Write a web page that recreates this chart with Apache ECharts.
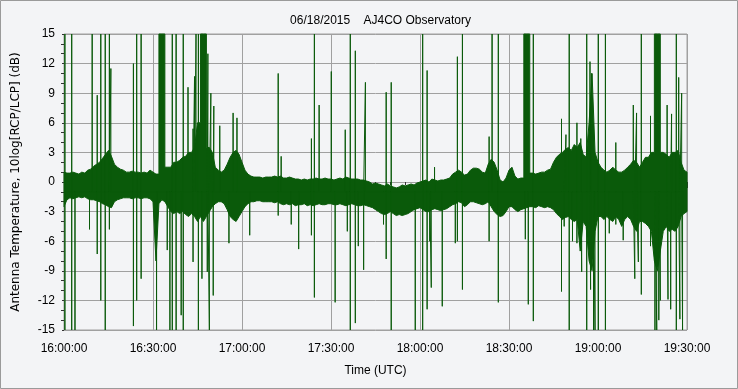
<!DOCTYPE html>
<html>
<head>
<meta charset="utf-8">
<script src="https://cdn.jsdelivr.net/npm/echarts@6/dist/echarts.min.js"></script>
<style>
html,body{margin:0;padding:0;background:#f3f4f6;}
#chart{width:738px;height:389px;}
</style>
</head>
<body>
<div id="chart"></div>
<script>
// Time in minutes after 16:00:00 UTC
const titleText = '06/18/2015    AJ4CO Observatory';
const xTickLabels = ['16:00:00','16:30:00','17:00:00','17:30:00','18:00:00','18:30:00','19:00:00','19:30:00'];
const yTicks = [-15,-12,-9,-6,-3,0,3,6,9,12,15];

// Upper edge of the noise band, one value per minute (0..210); 15 = saturated burst
const hiBand = [
  1.0, 0.9, 0.9, 1.0, 0.9, 0.8, 1.0, 0.9, 1.2, 1.3,
  1.6, 1.8, 2.0, 2.4, 2.8, 3.2, 2.6, 1.8, 1.5, 1.3,
  1.2, 1.0, 1.0, 1.1, 1.0, 1.0, 0.9, 1.0, 0.9, 1.2,
  1.0, 0.8, 15, 15, 15, 1.5, 1.5, 2.0, 2.0, 2.2,
  2.5, 2.6, 3.0, 3.0, 3.5, 6.0, 15, 15, 15, 3.5,
  3.0, 1.5, 1.2, 1.0, 1.2, 1.8, 2.5, 3.0, 3.2, 2.8,
  2.0, 1.2, 0.8, 0.6, 0.5, 0.5, 0.5, 0.4, 0.5, 0.5,
  0.5, 0.6, 0.5, 0.6, 0.4, 0.4, 0.5, 0.4, 0.3, 0.3,
  0.2, 0.3, 0.2, 0.3, 0.3, 0.4, 0.3, 0.3, 0.4, 0.3,
  0.3, 0.2, 0.3, 0.4, 0.3, 0.5, 0.4, 0.3, 0.3, 0.3,
  0.2, 0.2, 0.1, 0.0, -0.2, -0.1, -0.2, -0.3, -0.4, -0.2,
  -0.4, -0.5, -0.6, -0.5, -0.3, -0.4, -0.3, -0.2, -0.3, -0.1,
  0.0, 0.1, 0.2, 0.0, 0.3, 0.2, 0.1, 0.2, 0.2, 0.3,
  0.4, 0.8, 1.0, 1.2, 1.0, 0.7, 0.8, 1.2, 1.4, 1.4,
  1.3, 1.0, 0.9, 1.8, 2.3, 2.0, 1.2, 0.2, 0.0, 0.4,
  1.2, 1.5, 0.6, 0.3, 0.4, 15, 15, 15, 0.9, 0.8,
  0.9, 1.0, 1.0, 1.2, 1.3, 2.0, 2.5, 2.8, 3.0, 3.3,
  3.5, 3.2, 3.8, 3.5, 4.0, 2.8, 2.5, 6.0, 11.0, 3.0,
  2.0, 1.5, 1.2, 1.0, 1.2, 1.5, 1.2, 1.0, 1.0, 1.2,
  1.5, 1.8, 2.2, 2.0, 1.5, 2.0, 2.5, 2.5, 3.0, 15,
  15, 15, 3.0, 2.8, 2.5, 3.0, 3.0, 3.2, 2.0, 1.2, 1.0
];
// Lower edge of the noise band, one value per minute (0..210)
const loBand = [
  -2.5, -1.8, -1.6, -1.7, -1.6, -1.5, -1.6, -1.5, -1.7, -1.8,
  -1.8, -1.9, -2.0, -2.2, -2.3, -2.5, -2.6, -2.0, -1.8, -1.7,
  -1.6, -1.6, -1.6, -1.7, -1.6, -1.6, -1.7, -1.6, -1.6, -1.7,
  -2.0, -8.0, -2.2, -1.8, -2.0, -2.5, -3.0, -3.2, -3.0, -3.2,
  -3.0, -3.3, -3.5, -3.2, -3.5, -4.0, -3.5, -4.0, -3.5, -3.0,
  -2.5, -2.2, -2.0, -2.0, -2.2, -2.8, -3.5, -3.8, -4.0, -3.5,
  -3.0, -2.5, -2.2, -2.0, -2.0, -1.9, -1.9, -2.0, -2.0, -2.0,
  -2.0, -2.1, -2.0, -2.2, -2.3, -2.2, -2.3, -2.2, -2.4, -2.3,
  -2.3, -2.2, -2.4, -2.3, -2.4, -2.3, -2.2, -2.3, -2.3, -2.2,
  -2.2, -2.3, -2.3, -2.2, -2.3, -2.4, -2.3, -2.2, -2.3, -2.4,
  -2.4, -2.3, -2.4, -2.5, -2.6, -2.8, -3.0, -3.2, -3.3, -3.2,
  -3.0, -3.2, -3.4, -3.3, -3.4, -3.3, -3.2, -3.0, -2.8, -2.7,
  -2.6, -2.8, -3.0, -3.0, -2.8, -2.7, -2.8, -2.9, -2.8, -2.7,
  -2.5, -2.3, -2.2, -2.0, -2.1, -2.5, -2.3, -2.0, -2.0, -2.1,
  -2.2, -2.3, -2.2, -2.0, -2.5, -3.0, -3.3, -3.5, -3.4, -3.0,
  -2.5, -2.5, -2.8, -3.0, -2.8, -2.7, -2.6, -2.5, -2.5, -2.6,
  -2.4, -2.5, -2.6, -2.5, -2.6, -2.8, -3.2, -3.5, -3.8, -3.6,
  -3.5, -3.8, -4.0, -3.8, -7.0, -4.0, -4.5, -8.0, -9.0, -5.0,
  -3.5, -3.5, -3.8, -3.5, -3.8, -4.0, -3.5, -3.8, -4.5, -3.8,
  -3.5, -3.8, -4.5, -5.0, -4.0, -4.0, -4.2, -4.5, -5.0, -8.0,
  -9.0, -7.0, -5.0, -4.5, -5.0, -4.8, -5.0, -4.5, -3.5, -3.2, -3.0
];
// Isolated spikes: [minute, dB]
const spikes = [
  [0.3,15],[0.3,-15],[2.6,15],[2.6,-15],[3.7,-15],[8.6,-4.8],[9.5,15],
  [11.2,8.8],[11.2,-7.3],[12.4,15],[12.4,-12],[13.9,15],[13.9,-15],[15.3,15],[15.3,-4.8],[15.8,11.5],
  [23.4,12],[23.4,-14.6],[24.5,15],[24.5,-12],[26,15],[26,-9.8],[31.2,-15],
  [34.8,-6.9],[35.7,-15],[36.5,15],[36.5,-15],[37.8,15],[37.8,-15],[39.5,-13.5],[40.2,15],[40.2,-15],
  [41.8,9.6],[43.5,5.4],[43.5,-8.1],[44.0,10.7],[44.5,15],[45.3,15],[45.3,-15],[46.5,-9.8],
  [48.3,-9.1],[48.5,13],[49.0,-15],[49.5,9],[50.3,-11.5],[50.5,7.7],[52.5,5.7],[55.6,-6.2],
  [57,7],[58.3,6.5],[62.6,-5.4],
  [72.2,11],[72.2,-3.4],[73.2,2.6],[76.6,-4.3],[79.1,-6.8],[83.4,4.4],[83.4,-5.4],[84.4,15],[84.4,-11.7],
  [86,7.8],[90.1,11.2],[91.4,-12.2],[94.8,5.3],[95.5,-5],[96.5,15],[96.5,-15],[98.2,13.3],[98.2,-14.3],
  [99.2,-6.5],[101,-8.9],[101.6,10.1],
  [107.7,-4.3],[108.6,9.1],[108.6,-7.8],[110.3,10.1],[110.3,-15],[118.4,-15],[120.9,15],[120.9,-15],
  [122.4,11.3],[122.4,-12.9],[123.3,-6],[123.8,-10.7],[124.9,1.5],[127.5,-12.6],[131.9,-6.2],
  [132.6,12.7],[132.6,-6],[134.3,15],[134.3,-10.9],
  [143.3,4.6],[143.3,-6],[144.3,15],[146.4,15],[146.4,-12.2],[155.5,-5.8],[156.5,-12.4],
  [158.2,15],[158.2,-14.1],[167.7,6.4],[167.7,-11.1],[168.6,-4.5],[169.2,4.8],[170.3,15],[170.3,-15],
  [171.4,-6],[172.9,6],[172.9,-6.2],[174.2,4.4],[174.5,-9.1],
  [176.2,15],[176.2,-15],[177.3,12.2],[177.5,-10.9],[177.8,11],[178.5,-15],[179,-15],
  [180.1,15],[180.1,-15],[182.5,15],[182.5,-15],[183.8,-5.2],[186,4],[186,-4.3],[188.5,-5.9],
  [191.9,7.8],[192.4,-9.8],[193,7],[193.6,-8.1],[194.6,15],[194.6,-11.4],[197.7,6.7],[197.7,-6.5],
  [199.2,-15],[199.8,-15],[200.5,-14],[201,-12],
  [203.3,7.8],[203.6,-11.9],[204.5,-12.9],[204.8,6.9],[206.4,15],[206.4,-15],[207.2,10.6],
  [207.6,-13.9],[208.2,9],[208.5,-15]
];

const GREEN = '#0a5a0a';
const SAT = 15;
// outline of the band as one polygon: top edge left->right, bottom edge right->left
const topEdge = [];
for (let m = 0; m < hiBand.length - 1; m++) {
  let h0 = hiBand[m], h1 = hiBand[m + 1];
  // a saturated burst only fills between two saturated minutes
  if (h0 >= SAT && h1 < SAT) h0 = h1;
  else if (h1 >= SAT && h0 < SAT) h1 = h0;
  topEdge.push([m, h0], [m + 1, h1]);
}
const bottomEdge = loBand.map((v, m) => [m, v]).reverse();
const bandOutline = topEdge.concat(bottomEdge);

// spikes: vertical strokes from inside the band
const spikeBase = -1;
const spikeData = [];
spikes.slice().sort((a, b) => a[0] - b[0]).forEach(s => {
  spikeData.push([s[0], spikeBase], [s[0], s[1]], [s[0], spikeBase]);
});

const chart = echarts.init(document.getElementById('chart'));
const FONT = 'Liberation Sans';
chart.setOption({
  backgroundColor: '#f3f4f6',
  animation: false,
  title: {
    text: titleText, left: 375.5, textAlign: 'center', top: 10,
    textStyle: {fontFamily: FONT, fontSize: 12, fontWeight: 'normal', color: '#000'}
  },
  graphic: [{
    type: 'rect', silent: true, z: 100,
    shape: {x: 0.5, y: 0.5, width: 737, height: 388},
    style: {fill: 'none', stroke: '#9a9a9a', lineWidth: 1}
  }],
  grid: {
    left: 64, right: 51, top: 34, bottom: 59, show: true,
    backgroundColor: '#f3f4f6', borderColor: '#a0a0a0', borderWidth: 1
  },
  xAxis: {
    type: 'value', min: 0, max: 210, interval: 30, offset: 5,
    name: 'Time (UTC)', nameLocation: 'middle', nameGap: 30,
    nameTextStyle: {fontFamily: FONT, fontSize: 12, color: '#000'},
    axisLine: {show: false},
    axisTick: {show: true, length: 6, lineStyle: {color: '#333'}},
    minorTick: {show: true, splitNumber: 6, length: 3, lineStyle: {color: '#333'}},
    axisLabel: {
      margin: 8, fontFamily: FONT, fontSize: 12, color: '#000',
      formatter: v => xTickLabels[Math.round(v / 30)]
    },
    splitLine: {show: true, lineStyle: {color: '#a0a0a0', width: 1}}
  },
  yAxis: {
    type: 'value', min: -15, max: 15, interval: 3, offset: 4,
    name: 'Antenna Temperature, 10log[RCP/LCP] (dB)', nameLocation: 'middle', nameGap: 38,
    nameTextStyle: {fontFamily: 'DejaVu Sans', fontSize: 12, color: '#000'},
    axisLine: {show: false},
    axisTick: {show: true, length: 2, lineStyle: {color: '#333'}},
    minorTick: {show: true, splitNumber: 3, length: 3, lineStyle: {color: '#333'}},
    axisLabel: {
      margin: 5, fontFamily: FONT, fontSize: 12, color: '#000',
      formatter: v => String(yTicks[Math.round((v + 15) / 3)])
    },
    splitLine: {show: true, lineStyle: {color: '#a0a0a0', width: 1}}
  },
  series: [
    {
      name: 'band', type: 'custom', data: [[0, 0]],
      renderItem: function (params, api) {
        const points = bandOutline.map(p => api.coord(p));
        return {
          type: 'polygon',
          shape: {points: points},
          style: {fill: GREEN, stroke: GREEN, lineWidth: 1}
        };
      }
    },
    {
      name: 'spikes', type: 'line', data: spikeData,
      showSymbol: false, symbol: 'none', sampling: null,
      lineStyle: {color: GREEN, width: 1}
    }
  ]
});
</script>
</body>
</html>
